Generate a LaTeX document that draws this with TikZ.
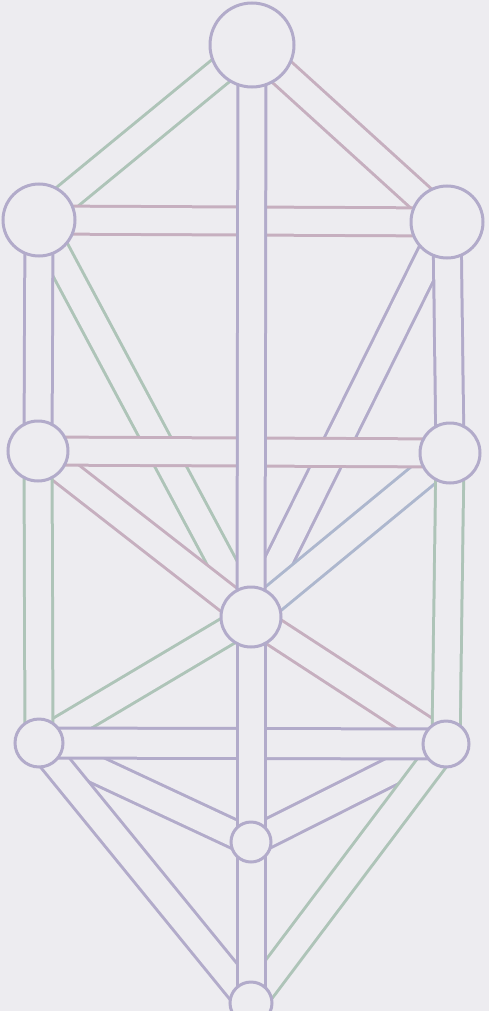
\documentclass[tikz,border=0pt]{standalone}
\definecolor{bg}{HTML}{EDECF0}
\definecolor{lav}{HTML}{B2ABCA}
\definecolor{grn}{HTML}{AEC4B8}
\definecolor{pnk}{HTML}{C6AFBF}
\definecolor{blu}{HTML}{ADB7CE}
\begin{document}
\begin{tikzpicture}[x=1pt,y=-1pt,
  bar/.style={draw=#1, line width=3pt, double=bg, double distance=25pt},
  widebar/.style={draw=#1, line width=3pt, double=bg, double distance=27pt},
  sef/.style={circle, draw=lav, line width=3pt, fill=bg, minimum size=#1, inner sep=0pt}]
\fill[bg] (0,0) rectangle (489,1011);
\useasboundingbox (0,0) rectangle (489,1011);
% positions of the sefirot
\coordinate (K) at (252,45);
\coordinate (LU) at (39,220);
\coordinate (RU) at (447,222);
\coordinate (LM) at (38,451);
\coordinate (RM) at (450,453);
\coordinate (T) at (251,617);
\coordinate (LL) at (39,743);
\coordinate (RL) at (446,744);
\coordinate (Y) at (251,842);
\coordinate (M) at (251,1003);
% diagonal paths
\draw[bar=grn] (K) -- (LU);
\draw[bar=pnk] (K) -- (RU);
\draw[bar=grn] (LU) -- (T);
\draw[bar=lav] (RU) -- (T);
\draw[bar=pnk] (LM) -- (T);
\draw[bar=blu] (RM) -- (T);
\draw[bar=grn] (T) -- (LL);
\draw[bar=pnk] (T) -- (RL);
\draw[bar=lav] (LL) -- (Y);
\draw[bar=lav] (RL) -- (Y);
\draw[bar=lav] (LL) -- (M);
\draw[bar=grn] (RL) -- (M);
% horizontal paths
\draw[bar=pnk] (LU) -- (RU);
\draw[bar=pnk] (LM) -- (RM);
\draw[widebar=lav] (LL) -- (RL);
% vertical paths
\draw[bar=lav] (LU) -- (LM);
\draw[bar=grn] (LM) -- (LL);
\draw[bar=lav] (RU) -- (RM);
\draw[bar=grn] (RM) -- (RL);
\draw[bar=lav] (K) -- (T);
\draw[bar=lav] (T) -- (Y);
\draw[bar=lav] (Y) -- (M);
% sefirot
\node[sef=84pt] (nK) at (K) {};
\node[sef=72pt] (nLU) at (LU) {};
\node[sef=72pt] (nRU) at (RU) {};
\node[sef=60pt] (nLM) at (LM) {};
\node[sef=60pt] (nRM) at (RM) {};
\node[sef=60pt] (nT) at (T) {};
\node[sef=48pt] (nLL) at (LL) {};
\node[sef=46pt] (nRL) at (RL) {};
\node[sef=40pt] (nY) at (Y) {};
\node[sef=42pt] (nM) at (M) {};
\end{tikzpicture}
\end{document}
